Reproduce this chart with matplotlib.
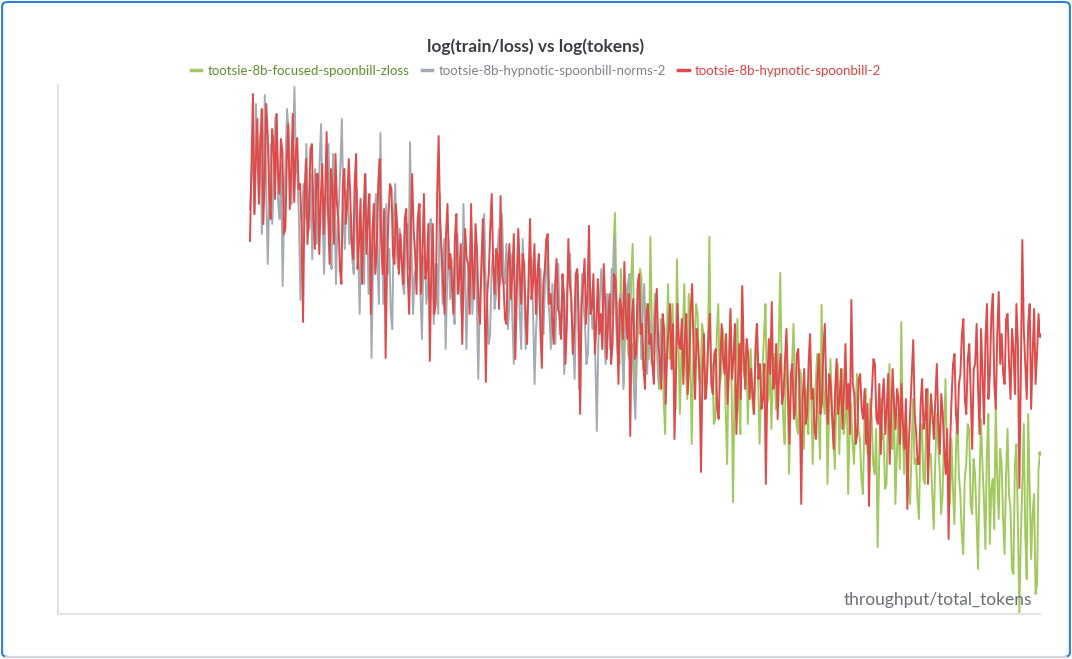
import numpy as np
import matplotlib
matplotlib.use("Agg")
import matplotlib.pyplot as plt
from matplotlib.lines import Line2D
from matplotlib.patches import FancyBboxPatch

# values (relative log loss, arbitrary units; no ticks shown)
red_loss = [
    373, 450, 520, 400, 455, 495, 410, 470, 505, 390, 438, 510, 480, 420, 395, 485, 470, 415, 500, 440, 420, 475, 462, 380, 385, 455, 490, 405, 445, 500, 412, 460, 476, 425,
    430, 385, 292, 420, 455, 370, 400, 465, 470, 395, 365, 440, 440, 360, 415, 450, 380, 420, 482, 400, 350, 445, 425, 370, 460, 410, 395, 345, 330, 430, 445, 390, 410, 455,
    420, 370, 355, 430, 460, 345, 372, 415, 330, 395, 440, 360, 395, 420, 300, 380, 410, 340, 365, 430, 455, 375, 340, 405, 256, 350, 400, 430, 425, 360, 350, 410, 385, 340,
    380, 350, 330, 395, 405, 340, 300, 375, 440, 385, 360, 320, 395, 410, 320, 360, 420, 335, 345, 390, 253, 345, 390, 300, 310, 420, 478, 390, 365, 330, 300, 380, 410, 345,
    360, 330, 300, 375, 400, 320, 335, 370, 270, 340, 385, 355, 350, 300, 410, 345, 315, 390, 365, 310, 290, 350, 395, 330, 232, 320, 340, 385, 420, 350, 320, 365, 360, 305,
    418, 340, 330, 295, 290, 350, 370, 315, 340, 380, 255, 320, 385, 345, 310, 360, 350, 300, 270, 335, 395, 315, 330, 370, 300, 340, 360, 285, 246, 330, 345, 375, 380, 310,
    320, 295, 270, 330, 355, 305, 300, 275, 340, 320, 250, 290, 375, 330, 315, 260, 285, 340, 345, 300, 200, 310, 330, 355, 290, 320, 388, 300, 305, 340, 260, 290, 335, 280,
    300, 265, 350, 310, 255, 295, 320, 250, 270, 340, 335, 290, 230, 315, 305, 275, 352, 300, 275, 320, 178, 295, 315, 255, 260, 330, 340, 280, 290, 245, 225, 300, 310, 270,
    280, 250, 230, 300, 325, 270, 255, 225, 300, 285, 210, 260, 285, 310, 245, 290, 175, 240, 310, 270, 265, 295, 230, 275, 300, 220, 250, 305, 330, 260, 215, 285, 270, 240,
    142, 240, 280, 215, 235, 275, 300, 230, 220, 260, 265, 205, 195, 250, 290, 255, 240, 280, 210, 245, 305, 235, 255, 290, 180, 230, 270, 215, 328, 260, 225, 275, 260, 215,
    245, 220, 200, 265, 290, 235, 250, 205, 215, 250, 130, 230, 275, 240, 312, 225, 230, 270, 195, 240, 260, 210, 220, 255, 285, 225, 170, 240, 250, 195, 205, 260, 265, 215,
    110, 215, 245, 190, 200, 250, 280, 215, 225, 185, 175, 235, 260, 200, 210, 265, 290, 220, 190, 240, 230, 195, 165, 225, 255, 200, 215, 245, 185, 220, 270, 205, 230, 180,
    314, 230, 220, 170, 180, 235, 240, 205, 195, 225, 170, 210, 108, 190, 225, 255, 250, 195, 190, 230, 160, 215, 235, 180, 205, 240, 150, 195, 245, 210, 185, 225, 215, 170,
    230, 190, 165, 215, 105, 170, 205, 240, 274, 200, 180, 150, 150, 210, 235, 185, 195, 225, 130, 175, 220, 200, 175, 215, 250, 190, 160, 220, 200, 165, 140, 185, 75, 170,
    215, 250, 260, 200, 180, 230, 240, 280, 295, 215, 200, 255, 270, 220, 165, 245, 250, 290, 225, 180, 285, 240, 190, 275, 310, 215, 240, 300, 320, 230, 205, 280, 322, 250,
    280, 240, 230, 295, 300, 250, 215, 285, 265, 220, 310, 270, 126, 240, 374, 285, 250, 215, 290, 310, 205, 260, 305, 230, 260, 300, 279,
]

gray_loss = [
    405, 440, 460, 400, 510, 455, 420, 480, 380, 445, 519, 420, 350, 415, 470, 390, 430, 495, 500, 410, 395, 450, 328, 400, 455, 505, 480, 420, 410, 470, 527, 445, 440, 395,
    314, 380, 430, 395, 470, 420, 385, 440, 355, 410, 445, 370, 400, 455, 490, 395, 340, 405, 420, 470, 375, 345, 460, 410, 330, 390, 410, 450, 495, 400, 365, 420, 425, 370,
    400, 355, 340, 410, 425, 360, 300, 385, 375, 330, 440, 395, 320, 370, 256, 345, 395, 420, 350, 310, 481, 380, 310, 365, 410, 340, 365, 300, 285, 395, 430, 360, 345, 385,
    370, 330, 320, 380, 390, 345, 472, 365, 300, 340, 345, 395, 410, 320, 275, 355, 360, 310, 330, 385, 395, 340, 290, 350, 350, 300, 420, 360, 310, 375, 265, 330, 375, 315,
    355, 310, 290, 360, 380, 330, 320, 295, 410, 350, 265, 325, 345, 385, 300, 340, 370, 315, 235, 310, 335, 370, 400, 335, 310, 270, 280, 345, 360, 305, 320, 365, 385, 330,
    400, 345, 330, 370, 285, 310, 360, 295, 250, 320, 340, 375, 300, 265, 375, 330, 265, 300, 320, 360, 355, 300, 230, 285, 310, 345, 345, 290, 280, 330, 370, 315, 300, 265,
    330, 300, 270, 325, 350, 280, 295, 335, 240, 290, 325, 355, 360, 300, 280, 235, 310, 340, 225, 275, 340, 310, 290, 250, 260, 330, 320, 285, 300, 255, 183, 270, 315, 345,
    305, 275, 250, 320, 300, 265, 345, 300, 377, 290, 260, 310, 320, 270, 225, 285, 290, 330, 340, 260, 270, 225, 195, 275, 310, 335, 255, 300, 330, 270, 240, 300, 290, 250,
    270, 300, 320, 255, 230, 280, 295, 240, 260,
]

green_loss = [
    300, 360, 401, 320, 280, 250, 345, 290, 230, 330, 310, 260, 255, 335, 370, 280, 215, 265, 290, 345, 335, 250, 240, 310, 300, 255,
    377, 290, 260, 320, 310, 240, 225, 295, 290, 215, 180, 270, 330, 255, 270, 310, 240, 205, 355, 280, 200, 260, 285, 330, 250, 215, 320, 265, 170, 250, 275, 310, 300, 235,
    230, 290, 280, 215, 220, 265, 377, 250, 250, 190, 195, 280, 310, 230, 240, 285, 270, 205, 150, 250, 300, 235, 112, 220, 260, 295, 215, 180, 325, 245, 235, 270, 190, 240,
    265, 215, 200, 250, 290, 235, 170, 225, 245, 280, 310, 210, 215, 260, 185, 240, 260, 205, 230, 275, 341, 240, 195, 170, 275, 225, 140, 215, 250, 290, 220, 190, 180, 245,
    240, 195, 165, 225, 210, 180, 275, 220, 150, 205, 230, 260, 190, 155, 309, 225, 200, 245, 130, 195, 255, 210, 180, 145, 220, 250, 160, 210, 245, 180, 195, 230, 120, 185,
    210, 170, 150, 205, 240, 185, 175, 135, 120, 190, 225, 160, 160, 215, 195, 150, 140, 185, 67, 150, 215, 175, 180, 125, 130, 200, 250, 170, 165, 215, 110, 160, 200, 145,
    292, 180, 140, 200, 180, 125, 110, 165, 215, 150, 155, 115, 95, 175, 190, 135, 130, 205, 225, 160, 160, 120, 85, 150, 200, 170, 145, 100, 120, 185, 235, 155, 150, 110,
    175, 125, 90, 160, 205, 140, 120, 80, 60, 135, 150, 190, 185, 110, 100, 155, 140, 95, 45, 130, 195, 150, 115, 65, 160, 200, 70, 125, 135, 85, 210, 140, 95, 165,
    150, 95, 60, 140, 185, 120, 105, 45, 40, 150, 170, 90, 1, 75, 130, 190, 80, 35, 200, 130, 55, 100, 120, 20, 30, 145, 161,
]

# token range of each run (arbitrary log-token units)
red_span = (192, 982)
gray_span = (192, 607)
green_span = (554, 982)

labels = [
    "tootsie-8b-focused-spoonbill-zloss",
    "tootsie-8b-hypnotic-spoonbill-norms-2",
    "tootsie-8b-hypnotic-spoonbill-2",
]
line_colors = ["#a2c95f", "#a4abb2", "#de4b4b"]
text_colors = ["#5f8f2c", "#7d848c", "#e0403f"]

plt.rcParams["font.family"] = ["Lato", "DejaVu Sans"]

fig = plt.figure(figsize=(10.72, 6.59), dpi=100)
ax = fig.add_axes([58 / 1072, 45 / 659, 982 / 1072, 529 / 659])

series = [(green_loss, green_span), (gray_loss, gray_span), (red_loss, red_span)]
for (vals, span), col in zip(series, line_colors):
    x = np.linspace(span[0], span[1], len(vals))
    ax.plot(x, vals, color=col, lw=1.4)

# end-of-run dots
for (vals, span), col in [(series[0], line_colors[0]), (series[2], line_colors[2])]:
    ax.plot([span[1]], [vals[-1]], "o", color=col, ms=3.5, mec="none")

ax.set_xlim(0, 982)
ax.set_ylim(0, 529)
ax.set_xticks([])
ax.set_yticks([])
for side in ["top", "right"]:
    ax.spines[side].set_visible(False)
for side in ["left", "bottom"]:
    ax.spines[side].set_color("#e2e2e2")
    ax.spines[side].set_linewidth(1.5)

ax.text(0.992, 0.012, "throughput/total_tokens", transform=ax.transAxes,
        ha="right", va="bottom", fontsize=12.5, color="#6b7078")

fig.text(0.5, 0.929, "log(train/loss) vs log(tokens)", ha="center", va="center",
         fontsize=12.5, fontweight="bold", color="#3b3f45")

handles = [Line2D([], [], color=c, lw=2.5) for c in line_colors]
leg = fig.legend(handles, labels, loc="center", bbox_to_anchor=(0.5, 0.893),
                 ncol=3, frameon=False, fontsize=9.5, handlelength=0.8,
                 handletextpad=0.5, columnspacing=0.9, labelcolor=text_colors)

# panel border
fig.patches.append(FancyBboxPatch((0.002, 0.003), 0.996, 0.994,
                                  boxstyle="round,pad=0,rounding_size=0.006",
                                  transform=fig.transFigure, fill=False,
                                  edgecolor="#2f7fd6", lw=1.5))
fig.add_artist(Line2D([0.006, 0.994], [0.003, 0.003], transform=fig.transFigure,
                      color="#d6d6d6", lw=1.5))

fig.savefig("out.png", dpi=100)
